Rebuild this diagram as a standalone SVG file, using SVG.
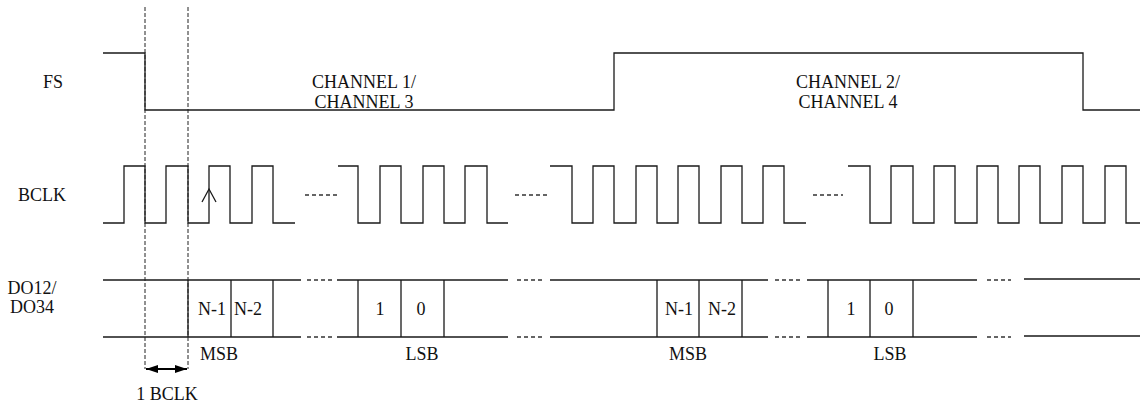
<svg xmlns="http://www.w3.org/2000/svg" width="1140" height="406" viewBox="0 0 1140 406">
<style>
.w{fill:none;stroke:#1a1a1a;stroke-width:1.3}
.d{fill:none;stroke:#333;stroke-width:1.3;stroke-dasharray:4 3}
.g{fill:none;stroke:#222;stroke-width:1;stroke-dasharray:4 2}
.m{text-anchor:middle}
</style>
<defs>
<marker id="ah" viewBox="0 0 12 8" refX="12" refY="4" markerWidth="12" markerHeight="8" markerUnits="userSpaceOnUse" orient="auto-start-reverse">
<path d="M0,0 L12,4 L0,8 Z" fill="#000"/>
</marker>
</defs>
<rect width="1140" height="406" fill="#fff"/>
<g font-family="'Liberation Serif', 'Times New Roman', 'DejaVu Serif', serif" font-size="18" fill="#111">
<g id="labels">
<text x="43" y="88">FS</text>
<text x="18" y="201">BCLK</text>
<text x="32" y="294" class="m">DO12/</text>
<text x="32" y="313" class="m">DO34</text>
</g>
<g id="fs">
<path class="w" d="M103,53 H145 V110 H614 V53 H1083 V110 H1140"/>
<text x="364" y="88" class="m">CHANNEL 1/</text>
<text x="364" y="108" class="m">CHANNEL 3</text>
<text x="848" y="88" class="m">CHANNEL 2/</text>
<text x="848" y="108" class="m">CHANNEL 4</text>
</g>
<g id="bclk">
<path class="w" d="M103,223 H124 V166 H145 V223 H166 V166 H188 V223 H209 V166 H230 V223 H252 V166 H273 V223 H295"/>
<path class="w" d="M338,166 H358 V223 H380 V166 H401 V223 H423 V166 H444 V223 H465 V166 H487 V223 H508"/>
<path class="w" d="M550,166 H572 V223 H593 V166 H614 V223 H636 V166 H657 V223 H678 V166 H699 V223 H721 V166 H742 V223 H763 V166 H784 V223 H806"/>
<path class="w" d="M848,166 H870 V223 H891 V166 H913 V223 H934 V166 H955 V223 H977 V166 H998 V223 H1019 V166 H1040 V223 H1062 V166 H1083 V223 H1105 V166 H1126 V223 H1140"/>
<path class="d" d="M305,195 H337 M515,195 H547 M813,195 H843"/>
<path class="w" d="M202,202 L209,189 L216,202"/>
</g>
<g id="data">
<path class="w" d="M103,280 H301 M337,280 H508 M550,280 H768 M807,280 H977 M1024,279 H1140"/>
<path class="w" d="M103,337 H301 M337,337 H508 M550,337 H768 M807,337 H977 M1024,336 H1140"/>
<path class="d" d="M307,280 H332 M517,280 H542 M775,280 H800 M987,280 H1011 M307,337 H332 M517,337 H542 M775,337 H800 M987,337 H1011"/>
<path class="w" d="M188,280 V337 M231,280 V337 M273,280 V337 M358,280 V337 M401,280 V337 M444,280 V337 M657,280 V337 M699,280 V337 M742,280 V337 M828,280 V337 M870,280 V337 M913,280 V337"/>
<text x="212" y="315" class="m">N-1</text>
<text x="248" y="315" class="m">N-2</text>
<text x="380" y="315" class="m">1</text>
<text x="421" y="315" class="m">0</text>
<text x="679" y="315" class="m">N-1</text>
<text x="722" y="315" class="m">N-2</text>
<text x="851" y="315" class="m">1</text>
<text x="889" y="315" class="m">0</text>
<text x="219" y="360" class="m">MSB</text>
<text x="422" y="360" class="m">LSB</text>
<text x="688" y="360" class="m">MSB</text>
<text x="890" y="360" class="m">LSB</text>
</g>
<g id="connectors">
<path class="g" d="M145,7 V369 M188,7 V369"/>
<path d="M146,369 H187" fill="none" stroke="#000" stroke-width="2" marker-start="url(#ah)" marker-end="url(#ah)"/>
<text x="167" y="400" class="m">1 BCLK</text>
</g>
</g>
</svg>
